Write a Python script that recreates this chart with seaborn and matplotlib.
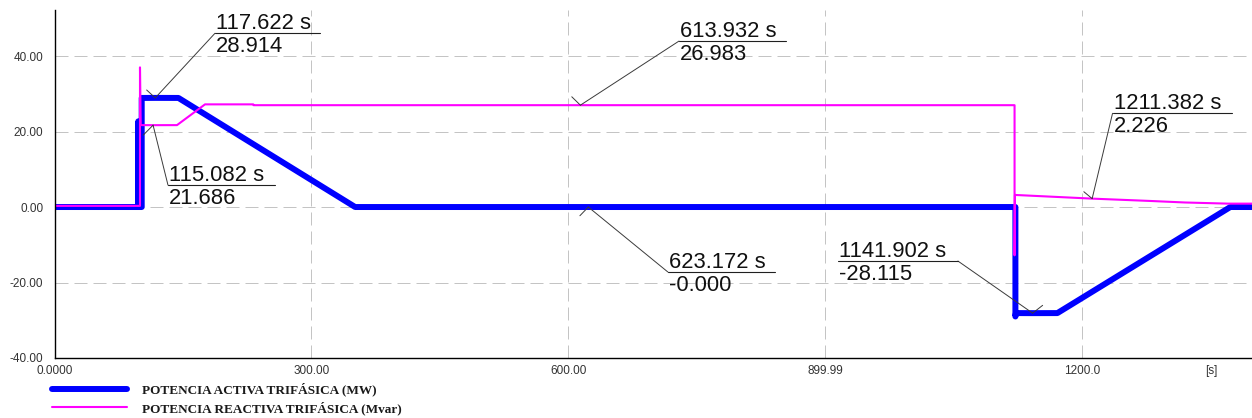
import numpy as np
import pandas as pd
import seaborn as sns
import matplotlib.pyplot as plt
import matplotlib.transforms as mtransforms
from matplotlib.lines import Line2D

# active power (MW)
p_time = [0, 97.8, 97.8, 98.0, 101.8, 101.8, 117.622, 144.7, 351.0, 623.172, 1121.8, 1121.8, 1122.4, 1141.902, 1170.8, 1372.7, 1398]
p_value = [0, 0, 22.7, 0, 0, 28.9, 28.914, 28.9, 0, -0.0, 0, -29.0, -28.1, -28.115, -28.1, 0, 0]

# reactive power (Mvar)
q_time = [0, 99.8, 99.8, 100.6, 115.082, 143.0, 175.7, 232.0, 232.5, 613.932, 1120.8, 1120.8, 1121.3, 1211.382, 1280, 1320, 1370, 1398]
q_value = [0.3, 0.3, 37.0, 21.7, 21.686, 21.7, 27.2, 27.2, 26.98, 26.983, 26.98, -12.8, 3.2, 2.226, 1.6, 1.2, 0.9, 0.9]

# cursor readouts
ann_time = [117.622, 115.082, 613.932, 623.172, 1141.902, 1211.382]
ann_value = [28.914, 21.686, 26.983, -0.0, -28.115, 2.226]

# callout geometry, in pixels relative to the marked point (y up)
ann_dx = [59.7, 14.9, 98.6, 79.6, -194.7, 20.4]
ann_dy = [64.6, -59.9, 64.1, -65.0, 52.1, 85.3]
ann_len = [105, 107, 107, 107, 120, 119]
ann_side = ['left', 'left', 'left', 'left', 'right', 'left']
tick_dx = [-8.6, -9.8, -8.6, -8.4, 10.0, -8.3]
tick_dy = [7.9, -9.9, 8.4, -8.7, 7.8, 6.9]

x_ticks = [0, 300, 600, 900, 1200]
x_labels = ['0.0000', '300.00', '600.00', '899.99', '1200.0']
x_minor = [150, 450, 750, 1050, 1350]
x_minor_labels = ['', '', '', '', '[s]']
y_ticks = [-40, -20, 0, 20, 40]
y_labels = ['-40.00', '-20.00', '0.00', '20.00', '40.00']
y_minor = [-30, -10, 10, 30, 50]

sns.set_style('white')
plt.rcParams['font.family'] = ['Liberation Sans', 'DejaVu Sans']

W, H = 1252, 418
fig = plt.figure(figsize=(W / 100, H / 100), dpi=100)
ax = fig.add_axes([54.5 / W, 1 - 358 / H, 1 - 54.5 / W, (358 - 10) / H])

df_p = pd.DataFrame({'t': p_time, 'v': p_value})
df_q = pd.DataFrame({'t': q_time, 'v': q_value})
sns.lineplot(data=df_p, x='t', y='v', sort=False, estimator=None, color='#0000ff',
             lw=4.3, label='POTENCIA ACTIVA TRIFÁSICA (MW)', ax=ax)
sns.lineplot(data=df_q, x='t', y='v', sort=False, estimator=None, color='#ff00ff',
             lw=1.5, label='POTENCIA REACTIVA TRIFÁSICA (Mvar)', ax=ax)

ax.set_xlim(0, 1398)
ax.set_ylim(-40, 52.2)
ax.set_xlabel('')
ax.set_ylabel('')

ax.set_xticks(x_ticks, labels=x_labels)
ax.set_xticks(x_minor, labels=x_minor_labels, minor=True)
ax.set_yticks(y_ticks, labels=y_labels)
ax.set_yticks(y_minor, minor=True)
ax.tick_params(which='both', direction='in', color='black', labelcolor='#333333', labelsize=8.5)
ax.tick_params(which='major', length=7, width=1)
ax.tick_params(which='minor', length=3.6, width=1)
ax.tick_params(axis='x', which='both', pad=5)
ax.tick_params(axis='y', which='both', pad=8)

ax.grid(True, which='major', color='#c4c4c4', lw=0.72, linestyle=(0, (13, 6)))
ax.set_axisbelow(True)
for s in ['top', 'right']:
    ax.spines[s].set_visible(False)
for s in ['left', 'bottom']:
    ax.spines[s].set_color('black')
    ax.spines[s].set_linewidth(1.0)

leg = ax.legend(loc='upper left', bbox_to_anchor=(52 / W, 1 - 383 / H), bbox_transform=fig.transFigure,
                frameon=False, prop=dict(family='Liberation Serif', weight='bold', size=9.5),
                handlelength=5.7, handletextpad=1.1, labelspacing=0.35, borderpad=0, borderaxespad=0)
for t in leg.get_texts():
    t.set_color('#1a1a1a')

# callouts drawn in pixel space around each marked point
ident = mtransforms.IdentityTransform()
for i in range(len(ann_time)):
    px, py = ax.transData.transform((ann_time[i], ann_value[i]))
    lx = px + ann_dx[i]
    ly = py + ann_dy[i]
    ex = lx if ann_side[i] == 'left' else lx + ann_len[i]
    fig.add_artist(Line2D([px, ex], [py, ly], transform=ident, color='#3a3a3a', lw=0.7))
    fig.add_artist(Line2D([lx, lx + ann_len[i]], [ly, ly], transform=ident, color='#202020', lw=0.8))
    fig.add_artist(Line2D([px + tick_dx[i], px], [py + tick_dy[i], py], transform=ident, color='#3a3a3a', lw=0.7))
    fig.text(lx + 1, ly + 4, f'{ann_time[i]:.3f} s', transform=ident, fontsize=15.8,
             ha='left', va='baseline', color='#111111')
    fig.text(lx + 1, ly - 3, f'{ann_value[i]:.3f}', transform=ident, fontsize=15.8,
             ha='left', va='top', color='#111111')

fig.savefig('out.png', dpi=100)
